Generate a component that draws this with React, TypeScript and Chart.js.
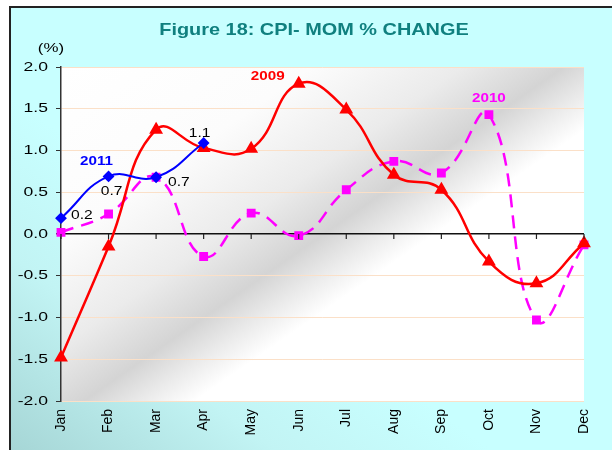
import React, { useEffect, useRef } from "react";
import { Chart, registerables } from "chart.js";

Chart.register(...registerables);

const months = ["Jan", "Feb", "Mar", "Apr", "May", "Jun", "Jul", "Aug", "Sep", "Oct", "Nov", "Dec"];
const series2009 = [-1.48, -0.15, 1.25, 1.03, 1.02, 1.8, 1.49, 0.71, 0.53, -0.33, -0.59, -0.11];
const series2010 = [0.02, 0.24, 0.68, -0.27, 0.25, -0.02, 0.53, 0.87, 0.73, 1.43, -1.03, -0.13];
const series2011 = [0.19, 0.69, 0.68, 1.09, null, null, null, null, null, null, null, null];
const labels2011 = ["0.2", "0.7", "0.7", "1.1"];
const yMin = -2;
const yMax = 2;
const yStep = 0.5;

const FONT = '"Liberation Sans", Arial, sans-serif';

function stretchedText(ctx: any, text: string, x: number, y: number, align: CanvasTextAlign, sx: number) {
  ctx.save();
  ctx.translate(x, y);
  ctx.scale(sx, 1);
  ctx.textAlign = align;
  ctx.fillText(text, 0, 0);
  ctx.restore();
}

export default function App() {
  const ref = useRef<HTMLCanvasElement | null>(null);

  useEffect(() => {
    if (!ref.current) return;
    const bgPlugin = {
      id: "plotBg",
      beforeDraw(chart: any) {
        const { ctx, chartArea: a } = chart;
        const len = (a.bottom - a.top) * 1.72;
        const g = ctx.createLinearGradient(a.left, a.top, a.left + len * 0.571, a.top + len * 0.821);
        g.addColorStop(0, "#ffffff");
        g.addColorStop(0.25, "#fcfcfc");
        g.addColorStop(0.4, "#ebebeb");
        g.addColorStop(0.5, "#d4d4d4");
        g.addColorStop(0.555, "#eaeaea");
        g.addColorStop(0.61, "#ffffff");
        g.addColorStop(1, "#ffffff");
        ctx.save();
        ctx.fillStyle = g;
        ctx.fillRect(a.left, a.top, a.right - a.left, a.bottom - a.top);
        ctx.restore();
      },
    };
    const annot = {
      id: "annot",
      afterDraw(chart: any) {
        const { ctx } = chart;
        const xs = chart.scales.x;
        const ys = chart.scales.y;
        const y0 = ys.getPixelForValue(0);
        ctx.save();
        // zero-axis tick marks
        ctx.strokeStyle = "#222";
        ctx.lineWidth = 1.2;
        months.forEach((_, i) => {
          const x = xs.getPixelForValue(i);
          ctx.beginPath();
          ctx.moveTo(x, y0);
          ctx.lineTo(x, y0 + 5);
          ctx.stroke();
        });
        ctx.textBaseline = "middle";
        // y tick labels
        ctx.fillStyle = "#000";
        ctx.font = `13.5px ${FONT}`;
        ys.ticks.forEach((t: any) => {
          stretchedText(ctx, Number(t.value).toFixed(1), 48, ys.getPixelForValue(t.value), "right", 1.3);
        });
        // title
        ctx.fillStyle = "#10807f";
        ctx.font = `bold 17px ${FONT}`;
        stretchedText(ctx, "Figure 18: CPI- MOM % CHANGE", 314, 30, "center", 1.17);
        ctx.fillStyle = "#000";
        ctx.font = `13px ${FONT}`;
        stretchedText(ctx, "(%)", 51, 48, "center", 1.3);
        // data labels 2011
        const offs: [number, number, CanvasTextAlign][] = [
          [10, -3, "left"],
          [3, 15, "center"],
          [12, 5, "left"],
          [-4, -10, "center"],
        ];
        labels2011.forEach((t, i) => {
          const v = series2011[i] as number;
          const px = xs.getPixelForValue(i);
          const py = ys.getPixelForValue(v);
          const o = offs[i];
          stretchedText(ctx, t, px + o[0], py + o[1], o[2], 1.2);
        });
        // series labels
        ctx.font = `bold 13px ${FONT}`;
        ctx.fillStyle = "#0000ff";
        stretchedText(ctx, "2011", xs.getPixelForValue(1) - 12, ys.getPixelForValue(series2011[1] as number) - 15, "center", 1.17);
        ctx.fillStyle = "#ff0000";
        stretchedText(ctx, "2009", xs.getPixelForValue(5) - 31, ys.getPixelForValue(series2009[5]) - 7, "center", 1.17);
        ctx.fillStyle = "#ff00ff";
        stretchedText(ctx, "2010", xs.getPixelForValue(9), ys.getPixelForValue(series2010[9]) - 16, "center", 1.17);
        ctx.restore();
      },
    };

    const chart = new Chart(ref.current, {
      type: "line",
      data: {
        labels: months,
        datasets: [
          {
            label: "2011",
            data: series2011,
            borderColor: "#0000ff",
            backgroundColor: "#0000ff",
            borderWidth: 2,
            pointStyle: "rectRot",
            pointRadius: 4.5,
            tension: 0.45,
            order: 0,
          },
          {
            label: "2009",
            data: series2009,
            borderColor: "#ff0000",
            backgroundColor: "#ff0000",
            borderWidth: 2.5,
            pointStyle: "triangle",
            pointRadius: 5.5,
            tension: 0.45,
            order: 1,
          },
          {
            label: "2010",
            data: series2010,
            borderColor: "#ff00ff",
            backgroundColor: "#ff00ff",
            borderWidth: 2.5,
            borderDash: [13, 8],
            pointStyle: "rect",
            pointRadius: 4.5,
            tension: 0.45,
            order: 2,
          },
        ],
      },
      options: {
        animation: false,
        responsive: false,
        devicePixelRatio: 1,
        layout: { padding: { left: 0, top: 67, right: 28, bottom: 0 } },
        plugins: {
          legend: { display: false },
          tooltip: { enabled: false },
          title: { display: false },
        },
        scales: {
          x: {
            offset: false,
            grid: { display: false, drawTicks: false },
            border: { display: false },
            ticks: {
              minRotation: 90,
              maxRotation: 90,
              padding: 8,
              color: "#000",
              font: { family: FONT, size: 14 },
            },
            afterFit(scale: any) {
              scale.height = 49;
            },
          },
          y: {
            min: yMin,
            max: yMax,
            grid: {
              color: (c: any) => (c.tick && c.tick.value === 0 ? "#111" : "#fbe0c8"),
              lineWidth: (c: any) => (c.tick && c.tick.value === 0 ? 1.5 : 1),
              tickColor: "#333",
              tickLength: 5,
            },
            border: { display: true, color: "#333", width: 1.5 },
            ticks: {
              stepSize: yStep,
              display: false,
            },
            afterFit(scale: any) {
              scale.width = 61;
            },
          },
        },
      },
      plugins: [bgPlugin, annot],
    });
    return () => chart.destroy();
  }, []);

  return (
    <div style={{ position: "fixed", left: 0, top: 0, width: 612, height: 450, background: "#fff", overflow: "hidden" }}>
      <div
        style={{
          position: "absolute",
          left: 9,
          top: 6,
          width: 603,
          height: 444,
          borderLeft: "2px solid #222",
          borderTop: "2px solid #222",
          boxSizing: "border-box",
          background: "linear-gradient(to top right, #a6d6d6 0%, #c2f4f4 22%, #c8ffff 40%, #c8ffff 100%)",
        }}
      />
      <canvas ref={ref} width={612} height={450} style={{ position: "absolute", left: 0, top: 0, width: 612, height: 450 }} />
    </div>
  );
}
